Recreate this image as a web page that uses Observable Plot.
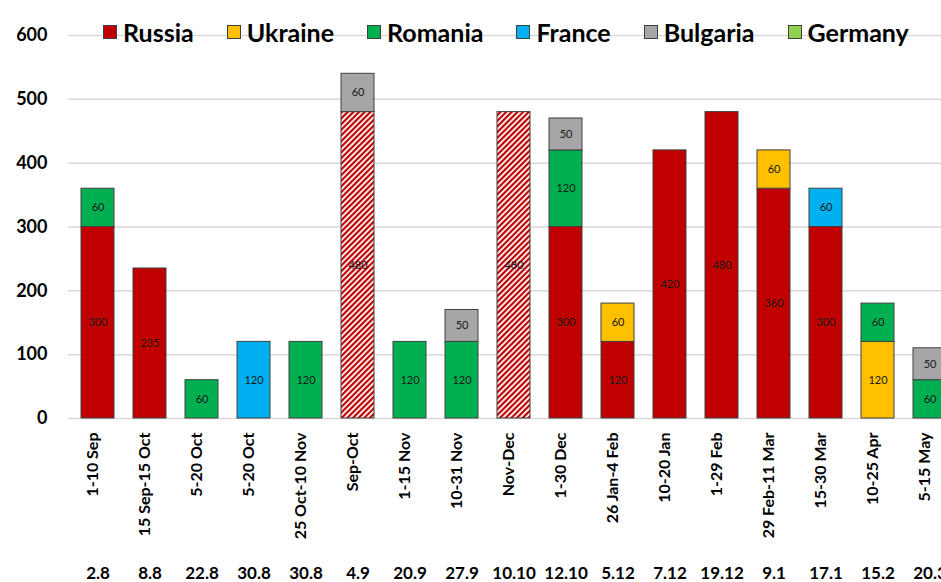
<!DOCTYPE html>
<html>
<head>
<meta charset="utf-8">
<script src="https://cdn.jsdelivr.net/npm/d3@7"></script>
<script src="https://cdn.jsdelivr.net/npm/@observablehq/plot@0.6"></script>
<style>
  html, body { margin: 0; padding: 0; background: #fff; overflow: hidden; }
  #wrap { position: relative; width: 941px; height: 582px; }
  #legend { position: absolute; left: 103px; top: 20px; display: flex; gap: 33px;
    font-family: Lato, sans-serif; font-weight: bold; font-size: 25px; line-height: 24px; color: #000; }
  .item { display: flex; align-items: center; gap: 6px; }
  .sw { width: 12px; height: 12px; border: 1.5px solid #404040; }
</style>
</head>
<body>
<div id="wrap"><div id="chart"></div><div id="legend"></div></div>
<script>
const categories = ["1-10 Sep", "15 Sep-15 Oct", "5-20 Oct", "5-20 Oct", "25 Oct-10 Nov", "Sep-Oct",
  "1-15 Nov", "10-31 Nov", "Nov-Dec", "1-30 Dec", "26 Jan-4 Feb", "10-20 Jan", "1-29 Feb",
  "29 Feb-11 Mar", "15-30 Mar", "10-25 Apr", "5-15 May"];
const dates = ["2.8", "8.8", "22.8", "30.8", "30.8", "4.9", "20.9", "27.9", "10.10", "12.10",
  "5.12", "7.12", "19.12", "9.1", "17.1", "15.2", "20.3"];
const seriesNames = ["Russia", "Ukraine", "Romania", "France", "Bulgaria", "Germany"];
const seriesColors = ["#c00000", "#ffc000", "#00b050", "#00b0f0", "#a6a6a6", "#92d050"];
const russia   = [300, 235, 0, 0, 0, 480, 0, 0, 480, 300, 120, 420, 480, 360, 300, 0, 0];
const ukraine  = [0, 0, 0, 0, 0, 0, 0, 0, 0, 0, 60, 0, 0, 60, 0, 120, 0];
const romania  = [60, 0, 60, 0, 120, 0, 120, 120, 0, 120, 0, 0, 0, 0, 0, 60, 60];
const france   = [0, 0, 0, 120, 0, 0, 0, 0, 0, 0, 0, 0, 0, 0, 60, 0, 0];
const bulgaria = [0, 0, 0, 0, 0, 60, 0, 50, 0, 50, 0, 0, 0, 0, 0, 0, 50];
const germany  = [0, 0, 0, 0, 0, 0, 0, 0, 0, 0, 0, 0, 0, 0, 0, 0, 0];
const russiaEstimated = [false, false, false, false, false, true, false, false, true, false,
  false, false, false, false, false, false, false];
const yTicks = [0, 100, 200, 300, 400, 500, 600];

const seriesValues = [russia, ukraine, romania, france, bulgaria, germany];
const ESTIMATE = "Russia (estimate)";
const rows = [];
categories.forEach((c, i) => {
  seriesNames.forEach((s, k) => {
    const v = seriesValues[k][i];
    if (v > 0) rows.push({idx: i, series: s, value: v,
      key: (s === "Russia" && russiaEstimated[i]) ? ESTIMATE : s});
  });
});
const idxs = categories.map((_, i) => i);
const step = 52.33;
const x0 = 68.33;

const stackOpts = {x: "idx", y: "value", z: "series", order: seriesNames};

const svg = Plot.plot({
  width: 941,
  height: 582,
  marginTop: 35,
  marginBottom: 164,
  marginLeft: 68,
  marginRight: 0,
  style: {fontFamily: "Lato, sans-serif", background: "transparent", color: "#000"},
  x: {type: "band", domain: idxs, range: [x0, x0 + step * categories.length],
      paddingInner: 0.37, paddingOuter: 0.185, axis: null},
  y: {domain: [0, 600], axis: null},
  color: {domain: [...seriesNames, ESTIMATE], range: [...seriesColors, "url(#hatch)"]},
  marks: [
    Plot.ruleY(yTicks, {stroke: "#d9d9d9", strokeWidth: 1.5}),
    Plot.text(yTicks, {y: d => d, frameAnchor: "left", dx: -21, textAnchor: "end",
      text: d => String(d), fontSize: 18, fontWeight: "bold", fill: "#000"}),
    Plot.barY(rows, {...stackOpts, fill: "key", stroke: "#404040", strokeWidth: 1}),
    Plot.text(rows, Plot.stackY({...stackOpts, text: "value", fill: "#1a1a1a", fontSize: 11})),
    Plot.text(idxs, {x: d => d, frameAnchor: "bottom", dy: 14, rotate: -90, textAnchor: "end",
      text: d => categories[d], fontSize: 16, fontWeight: "bold", fill: "#000"}),
    Plot.text(idxs, {x: d => d, frameAnchor: "bottom", dy: 148, lineAnchor: "top",
      text: d => dates[d], fontSize: 17, fontWeight: "bold", fill: "#000"})
  ]
});

const ns = "http://www.w3.org/2000/svg";
const defs = document.createElementNS(ns, "defs");
defs.innerHTML = '<pattern id="hatch" patternUnits="userSpaceOnUse" width="4" height="4" patternTransform="rotate(45)">' +
  '<rect width="4" height="4" fill="#ffffff"/><rect width="2.2" height="4" fill="#c00000"/></pattern>';
svg.insertBefore(defs, svg.firstChild);
document.getElementById("chart").appendChild(svg);

const legend = d3.select("#legend");
seriesNames.forEach((s, k) => {
  const it = legend.append("div").attr("class", "item");
  it.append("div").attr("class", "sw").style("background", seriesColors[k]);
  it.append("span").text(s);
});
</script>
</body>
</html>
